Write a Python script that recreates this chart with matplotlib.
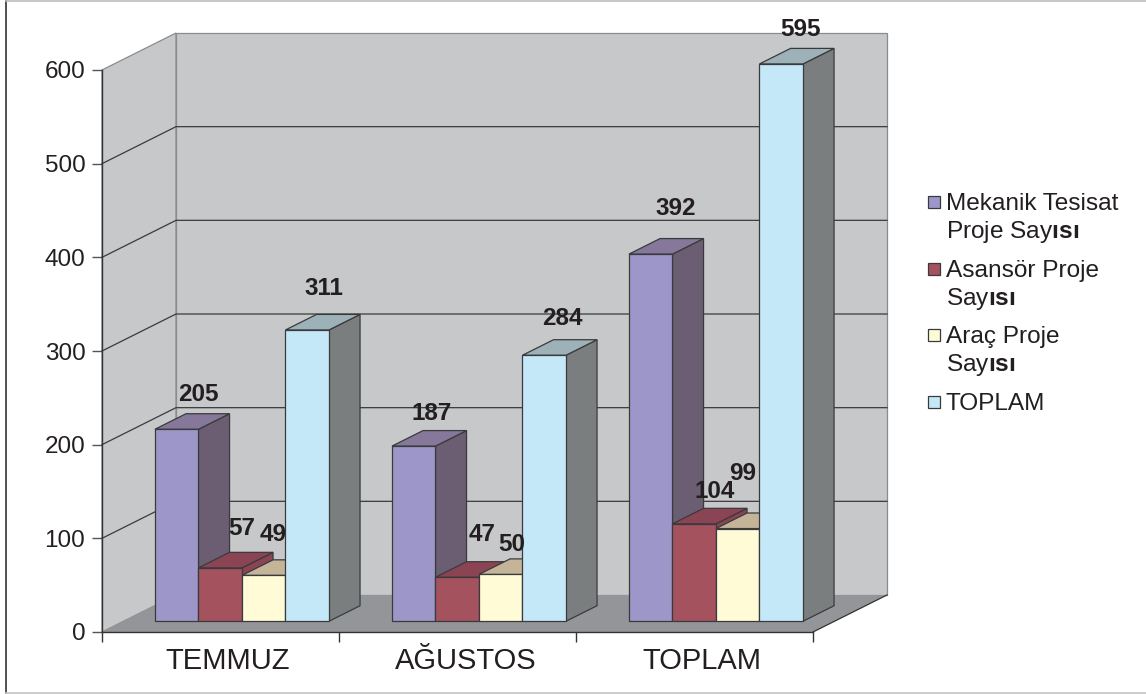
import matplotlib
matplotlib.use('Agg')
import matplotlib.pyplot as plt
from matplotlib.lines import Line2D
from matplotlib.patches import Rectangle

W, H = 1146, 694

plt.rcParams['font.family'] = ['Liberation Sans', 'DejaVu Sans']
plt.rcParams['mathtext.fontset'] = 'custom'
plt.rcParams['mathtext.rm'] = 'Liberation Sans'
plt.rcParams['mathtext.bf'] = 'Liberation Sans:bold'

categories = ['TEMMUZ', 'AĞUSTOS', 'TOPLAM']
mekanik = [205, 187, 392]
asansor = [57, 47, 104]
arac = [49, 50, 99]
toplam = [311, 284, 595]
y_ticks = [0, 100, 200, 300, 400, 500, 600]

series = [mekanik, asansor, arac, toplam]
# front, top, side colours of each series
front_colors = ['#9D96C8', '#A5525F', '#FFFBD6', '#C5E8F8']
top_colors = ['#85789A', '#8B4453', '#C4B598', '#9DB2B8']
side_colors = ['#6B5E73', '#8B4453', '#C4B598', '#7A7E7F']

# label offsets from the middle of the bar top, pixels, per series and group
label_nudge = [
    [(22, -35), (18, -33), (25, -46)],
    [(22, -39), (25, -43), (20, -32)],
    [(9, -41), (11, -30), (5, -55)],
    [(17, -41), (18, -37), (19, -34)],
]

legend_lines = [
    ['Mekanik Tesisat', r'Proje Say$\mathbf{ısı}$'],
    ['Asansör Proje', r'Say$\mathbf{ısı}$'],
    ['Araç Proje', r'Say$\mathbf{ısı}$'],
    ['TOPLAM'],
]
legend_y = [202, 269, 335, 402]

fig = plt.figure(figsize=(W / 100, H / 100), dpi=100)
ax = fig.add_axes([102 / W, (H - 632) / H, 711 / W, 562 / H])
ax.set_xlim(0, 3)
ax.set_ylim(0, 600)
ax.patch.set_visible(False)

# depth of the 3d box in data units
depth_x = 74 / 237
depth_y = 37 / (562 / 600)
outline = '#3A3A3C'


def project(x, v, d):
    return x + d * depth_x, v + d * depth_y


def poly(points, color, edge=outline, lw=0.9, z=1):
    xs = [p[0] for p in points]
    ys = [p[1] for p in points]
    ax.fill(xs, ys, facecolor=color, edgecolor=edge, linewidth=lw, zorder=z,
            clip_on=False, joinstyle='miter')


# walls and floor
poly([project(0, 0, 0), project(0, 600, 0), project(0, 600, 1), project(0, 0, 1)], '#C7C8CA', edge='#8A8C8E', z=1)
poly([project(0, 0, 1), project(3, 0, 1), project(3, 600, 1), project(0, 600, 1)], '#C7C8CA', edge='#8A8C8E', z=1)
poly([project(0, 0, 0), project(3, 0, 0), project(3, 0, 1), project(0, 0, 1)], '#939598', edge='none', z=1.5)
ax.plot(*zip(project(3, 0, 0), project(3, 0, 1)), color='#333333', lw=0.9, zorder=1.6, clip_on=False)

for v in y_ticks[1:-1]:
    ax.plot(*zip(project(0, v, 0), project(0, v, 1), project(3, v, 1)),
            color='#3A3A3C', lw=0.9, zorder=1.6, clip_on=False)

# bars, left to right so each one covers the side of the previous one
bar_w = 43.5 / 237
gap = (1 - 4 * bar_w) / 2
d0, d1 = 0.29, 0.71
z = 2
for g in range(len(categories)):
    for s, values in enumerate(series):
        v = values[g]
        x0 = g + gap + s * bar_w
        x1 = x0 + bar_w
        poly([project(x1, 0, d0), project(x1, 0, d1), project(x1, v, d1), project(x1, v, d0)], side_colors[s], z=z)
        poly([project(x0, v, d0), project(x1, v, d0), project(x1, v, d1), project(x0, v, d1)], top_colors[s], z=z)
        poly([project(x0, 0, d0), project(x1, 0, d0), project(x1, v, d0), project(x0, v, d0)], front_colors[s], z=z)
        z += 0.01
        nx, ny = label_nudge[s][g]
        ax.annotate(str(v), xy=project((x0 + x1) / 2, v, d0), xytext=(nx * 0.72, -ny * 0.72),
                    textcoords='offset points', ha='center', va='center', fontsize=17.5,
                    fontweight='bold', color='#231F20', zorder=10, annotation_clip=False)

# axes
for side in ['top', 'right']:
    ax.spines[side].set_visible(False)
for side in ['left', 'bottom']:
    ax.spines[side].set_color('#333333')
    ax.spines[side].set_linewidth(1.0)
    ax.spines[side].set_zorder(1.7)
ax.set_yticks(y_ticks)
ax.set_yticklabels([str(t) for t in y_ticks])
ax.tick_params(axis='y', length=7, width=1, color='#555555', labelsize=17.5, labelcolor='#231F20', pad=5)
ax.set_xticks(range(4))
ax.set_xticklabels([])
ax.set_xticks([0.53, 1.535, 2.53], minor=True)
ax.set_xticklabels(categories, minor=True)
ax.tick_params(axis='x', which='major', length=7, width=1, color='#333333')
ax.tick_params(axis='x', which='minor', length=0, labelsize=21, labelcolor='#231F20', pad=11)

# legend
for i, lines in enumerate(legend_lines):
    fig.add_artist(Rectangle((928 / W, 1 - (legend_y[i] + 6) / H), 12 / W, 12 / H, transform=fig.transFigure,
                             facecolor=front_colors[i], edgecolor=outline, linewidth=0.9))
    for k, line in enumerate(lines):
        fig.text(946 / W, 1 - (legend_y[i] + k * 26.5) / H, line, fontsize=17.6, color='#231F20', va='center_baseline')

# frame of the picture
fig.add_artist(Line2D([6 / W, 6 / W], [0.002, 1], color='#333333', lw=1.2))
fig.add_artist(Line2D([6 / W, 1], [0.999, 0.999], color='#BDBDBD', lw=1.2))
fig.add_artist(Line2D([6 / W, 1], [0.002, 0.002], color='#C4C4C4', lw=1.2))

fig.savefig('out.png', dpi=100)
